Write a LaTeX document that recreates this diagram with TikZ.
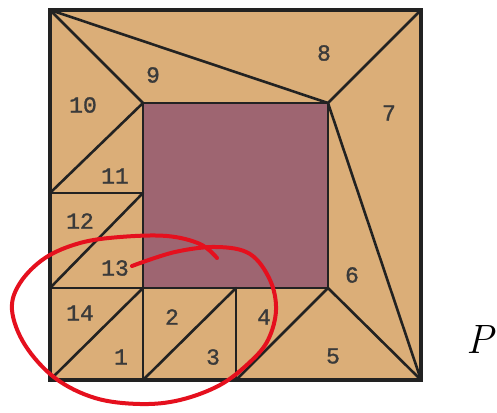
\documentclass[tikz,border=0pt]{standalone}
\usepackage{fontspec}
\newfontfamily\lblfont[FakeBold=1.2]{Liberation Mono}
\definecolor{tanfill}{HTML}{DBAE78}
\definecolor{plum}{HTML}{9E6571}
\definecolor{ink}{HTML}{222222}
\definecolor{lblcol}{HTML}{3A3A3A}
\definecolor{redmark}{HTML}{E5101E}
\begin{document}
\begin{tikzpicture}[x=1pt,y=-1pt,
  edge/.style={draw=ink,line width=2.6pt,line join=round,line cap=round},
  num/.style={text=lblcol,font=\lblfont\fontsize{23}{23}\selectfont,inner sep=0pt}]
\useasboundingbox (0,0) rectangle (497,412);
\fill[white] (0,0) rectangle (497,412);
% corners
\coordinate (A) at (50,10);
\coordinate (B) at (421,10);
\coordinate (C) at (421,380);
\coordinate (D) at (50,380);
\coordinate (I1) at (143,103);
\coordinate (I2) at (328,103);
\coordinate (I3) at (328,288);
\coordinate (I4) at (143,288);
\coordinate (L1) at (50,193);
\coordinate (L2) at (143,193);
\coordinate (L3) at (50,288);
\coordinate (B1) at (143,380);
\coordinate (B2) at (236,380);
\coordinate (B3) at (236,288);
% fills
\fill[tanfill] (A) rectangle (C);
\fill[plum] (I1) rectangle (I3);
% inner lines
\draw[edge] (I1) rectangle (I3);
\draw[edge] (A) -- (I1);
\draw[edge] (A) -- (I2);
\draw[edge] (I2) -- (B);
\draw[edge] (I2) -- (C);
\draw[edge] (I3) -- (C);
\draw[edge] (I3) -- (B2);
\draw[edge] (I1) -- (L1);
\draw[edge] (L1) -- (L2);
\draw[edge] (L3) -- (L2);
\draw[edge] (L3) -- (I4);
\draw[edge] (D) -- (I4);
\draw[edge] (I4) -- (B1);
\draw[edge] (B1) -- (B3);
\draw[edge] (B3) -- (B2);
% outer border
\draw[draw=ink,line width=3.6pt,line join=miter] (A) rectangle (C);
% labels
\node[num] (n1) at (121,357) {1};
\node[num] (n2) at (172,317) {2};
\node[num] (n3) at (213,357) {3};
\node[num] (n4) at (264,317) {4};
\node[num] (n5) at (333,356) {5};
\node[num] (n6) at (352,275) {6};
\node[num] (n7) at (389,113) {7};
\node[num] (n8) at (324,53) {8};
\node[num] (n9) at (153,75) {9};
\node[num] (n10) at (83,105) {10};
\node[num] (n11) at (115,176) {11};
\node[num] (n12) at (80,221) {12};
\node[num] (n13) at (115,268) {13};
\node[num] (n14) at (80,313) {14};
\node[inner sep=0pt] (P) at (480,339) {\fontsize{41}{41}\selectfont\itshape P};
% red annotation
\draw[redmark,line width=4pt,line cap=round,line join=round]
  plot[smooth,tension=0.6] coordinates {
  (132,266) (175,252) (217,247) (250,254) (270,280) (276,310) (268,340)
  (250,362) (220,385) (180,400) (140,404) (95,398) (55,378) (25,345)
  (12,310) (20,283) (45,258) (80,243) (120,237) (167,236) (200,244) (217,258)};
\end{tikzpicture}
\end{document}
